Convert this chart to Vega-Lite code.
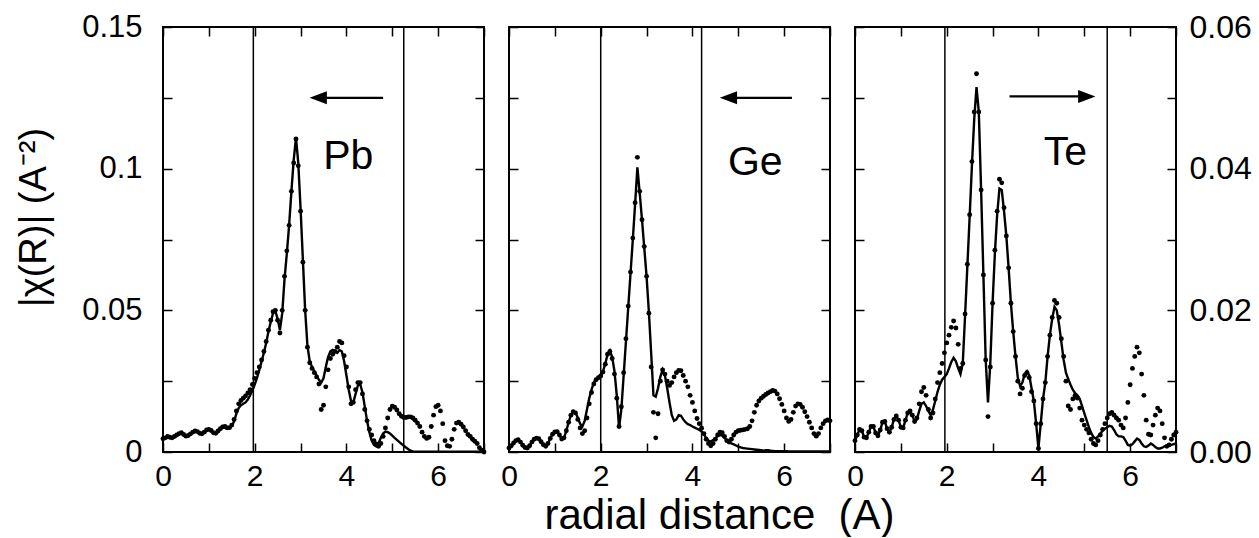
{
"$schema": "https://vega.github.io/schema/vega-lite/v6.json",
"background": "white",
"padding": {"left": 14, "top": 10, "right": 0, "bottom": 0},
"spacing": 25,
"bounds": "flush",
"config": {
  "view": {"stroke": "black", "strokeWidth": 2},
  "font": "Liberation Sans",
  "axis": {"domain": false, "grid": false, "tickColor": "black", "tickWidth": 1.5, "tickSize": -9, "labelColor": "black", "labelFont": "Liberation Sans", "labelFontSize": 31, "titleFont": "Liberation Sans", "titleColor": "black", "titleFontWeight": "normal", "labelFlush": false, "labelOverlap": false}
},
"datasets": {
"pb": [
{"r":0.00,"d":0.0047,"f":0.0045},{"r":0.05,"d":0.0050,"f":0.0048},{"r":0.10,"d":0.0055,"f":0.0052},{"r":0.15,"d":0.0052,"f":0.0050},{"r":0.20,"d":0.0050,"f":0.0048},{"r":0.25,"d":0.0055,"f":0.0053},{"r":0.30,"d":0.0060,"f":0.0058},{"r":0.35,"d":0.0065,"f":0.0063},{"r":0.40,"d":0.0068,"f":0.0066},{"r":0.45,"d":0.0062,"f":0.0060},
{"r":0.50,"d":0.0056,"f":0.0055},{"r":0.55,"d":0.0058,"f":0.0057},{"r":0.60,"d":0.0064,"f":0.0063},{"r":0.65,"d":0.0070,"f":0.0069},{"r":0.70,"d":0.0074,"f":0.0073},{"r":0.75,"d":0.0072,"f":0.0071},{"r":0.80,"d":0.0066,"f":0.0065},{"r":0.85,"d":0.0064,"f":0.0063},{"r":0.90,"d":0.0070,"f":0.0069},{"r":0.95,"d":0.0078,"f":0.0077},
{"r":1.00,"d":0.0080,"f":0.0080},{"r":1.05,"d":0.0076,"f":0.0075},{"r":1.10,"d":0.0068,"f":0.0067},{"r":1.15,"d":0.0066,"f":0.0065},{"r":1.20,"d":0.0074,"f":0.0074},{"r":1.25,"d":0.0082,"f":0.0082},{"r":1.30,"d":0.0088,"f":0.0087},{"r":1.35,"d":0.0090,"f":0.0088},{"r":1.40,"d":0.0085,"f":0.0084},{"r":1.45,"d":0.0086,"f":0.0085},
{"r":1.50,"d":0.0095,"f":0.0092},{"r":1.55,"d":0.0115,"f":0.0108},{"r":1.60,"d":0.0145,"f":0.0135},{"r":1.65,"d":0.0170,"f":0.0155},{"r":1.70,"d":0.0182,"f":0.0165},{"r":1.75,"d":0.0190,"f":0.0170},{"r":1.80,"d":0.0198,"f":0.0175},{"r":1.85,"d":0.0208,"f":0.0185},{"r":1.90,"d":0.0220,"f":0.0200},{"r":1.95,"d":0.0238,"f":0.0218},
{"r":2.00,"d":0.0260,"f":0.0238},{"r":2.05,"d":0.0280,"f":0.0262},{"r":2.10,"d":0.0300,"f":0.0290},{"r":2.15,"d":0.0325,"f":0.0320},{"r":2.20,"d":0.0355,"f":0.0350},{"r":2.25,"d":0.0390,"f":0.0385},{"r":2.30,"d":0.0430,"f":0.0425},{"r":2.35,"d":0.0465,"f":0.0460},{"r":2.40,"d":0.0495,"f":0.0490},{"r":2.45,"d":0.0500,"f":0.0498},
{"r":2.50,"d":0.0465,"f":0.0470},{"r":2.55,"d":0.0420,"f":0.0430},{"r":2.60,"d":0.0500,"f":0.0490},{"r":2.65,"d":0.0620,"f":0.0610},{"r":2.70,"d":0.0710,"f":0.0700},{"r":2.75,"d":0.0800,"f":0.0800},{"r":2.80,"d":0.0920,"f":0.0920},{"r":2.85,"d":0.1020,"f":0.1030},{"r":2.90,"d":0.1105,"f":0.1110},{"r":2.95,"d":0.1010,"f":0.1020},
{"r":3.00,"d":0.0850,"f":0.0860},{"r":3.05,"d":0.0670,"f":0.0680},{"r":3.10,"d":0.0500,"f":0.0500},{"r":3.15,"d":0.0370,"f":0.0375},{"r":3.20,"d":0.0315,"f":0.0320},{"r":3.25,"d":0.0295,"f":0.0300},{"r":3.30,"d":0.0280,"f":0.0285},{"r":3.35,"d":0.0265,"f":0.0270},{"r":3.40,"d":0.0240,"f":0.0255},{"r":3.45,"d":0.0150,"f":0.0245},
{"r":3.50,"d":0.0165,"f":0.0260},{"r":3.55,"d":0.0230,"f":0.0300},{"r":3.60,"d":0.0290,"f":0.0335},{"r":3.65,"d":0.0330,"f":0.0355},{"r":3.70,"d":0.0345,"f":0.0360},{"r":3.75,"d":0.0355,"f":0.0355},{"r":3.80,"d":0.0370,"f":0.0350},{"r":3.85,"d":0.0390,"f":0.0360},{"r":3.90,"d":0.0385,"f":0.0355},{"r":3.95,"d":0.0340,"f":0.0320},
{"r":4.00,"d":0.0300,"f":0.0270},{"r":4.05,"d":0.0230,"f":0.0220},{"r":4.10,"d":0.0170,"f":0.0180},{"r":4.15,"d":0.0175,"f":0.0175},{"r":4.20,"d":0.0220,"f":0.0205},{"r":4.25,"d":0.0245,"f":0.0235},{"r":4.30,"d":0.0245,"f":0.0240},{"r":4.35,"d":0.0205,"f":0.0210},{"r":4.40,"d":0.0150,"f":0.0160},{"r":4.45,"d":0.0110,"f":0.0110},
{"r":4.50,"d":0.0080,"f":0.0070},{"r":4.55,"d":0.0060,"f":0.0040},{"r":4.60,"d":0.0040,"f":0.0025},{"r":4.65,"d":0.0028,"f":0.0020},{"r":4.70,"d":0.0020,"f":0.0030},{"r":4.75,"d":0.0030,"f":0.0050},{"r":4.80,"d":0.0055,"f":0.0065},{"r":4.85,"d":0.0085,"f":0.0072},{"r":4.90,"d":0.0120,"f":0.0070},{"r":4.95,"d":0.0150,"f":0.0065},
{"r":5.00,"d":0.0162,"f":0.0058},{"r":5.05,"d":0.0158,"f":0.0050},{"r":5.10,"d":0.0148,"f":0.0043},{"r":5.15,"d":0.0135,"f":0.0036},{"r":5.20,"d":0.0126,"f":0.0029},{"r":5.25,"d":0.0122,"f":0.0022},{"r":5.30,"d":0.0122,"f":0.0016},{"r":5.35,"d":0.0124,"f":0.0010},{"r":5.40,"d":0.0124,"f":0.0005},{"r":5.45,"d":0.0120,"f":0.0002},
{"r":5.50,"d":0.0112,"f":0.0001},{"r":5.55,"d":0.0102,"f":0.0001},{"r":5.60,"d":0.0090,"f":0.0001},{"r":5.65,"d":0.0070,"f":0.0001},{"r":5.70,"d":0.0055,"f":0.0001},{"r":5.75,"d":0.0048,"f":0.0001},{"r":5.80,"d":0.0052,"f":0.0001},{"r":5.85,"d":0.0090,"f":0.0001},{"r":5.90,"d":0.0130,"f":0.0001},{"r":5.95,"d":0.0160,"f":0.0001},
{"r":6.00,"d":0.0165,"f":0.0001},{"r":6.05,"d":0.0145,"f":0.0001},{"r":6.10,"d":0.0100,"f":0.0001},{"r":6.15,"d":0.0040,"f":0.0001},{"r":6.20,"d":0.0022,"f":0.0001},{"r":6.25,"d":0.0020,"f":0.0001},{"r":6.30,"d":0.0045,"f":0.0001},{"r":6.35,"d":0.0080,"f":0.0001},{"r":6.40,"d":0.0102,"f":0.0001},{"r":6.45,"d":0.0105,"f":0.0001},
{"r":6.50,"d":0.0098,"f":0.0001},{"r":6.55,"d":0.0088,"f":0.0001},{"r":6.60,"d":0.0075,"f":0.0001},{"r":6.65,"d":0.0062,"f":0.0001},{"r":6.70,"d":0.0055,"f":0.0001},{"r":6.75,"d":0.0045,"f":0.0001},{"r":6.80,"d":0.0038,"f":0.0001},{"r":6.85,"d":0.0030,"f":0.0001},{"r":6.90,"d":0.0015,"f":0.0001},{"r":6.95,"d":0.0006,"f":0.0001},
{"r":7.00,"d":0.0000,"f":0.0001}
],
"ge": [
{"r":0.00,"d":0.0014,"f":0.0014},{"r":0.05,"d":0.0022,"f":0.0022},{"r":0.10,"d":0.0032,"f":0.0032},{"r":0.15,"d":0.0040,"f":0.0040},{"r":0.20,"d":0.0043,"f":0.0043},{"r":0.25,"d":0.0035,"f":0.0035},{"r":0.30,"d":0.0024,"f":0.0024},{"r":0.35,"d":0.0016,"f":0.0016},{"r":0.40,"d":0.0014,"f":0.0014},{"r":0.45,"d":0.0022,"f":0.0022},
{"r":0.50,"d":0.0035,"f":0.0035},{"r":0.55,"d":0.0045,"f":0.0045},{"r":0.60,"d":0.0049,"f":0.0049},{"r":0.65,"d":0.0047,"f":0.0047},{"r":0.70,"d":0.0036,"f":0.0036},{"r":0.75,"d":0.0026,"f":0.0026},{"r":0.80,"d":0.0020,"f":0.0020},{"r":0.85,"d":0.0030,"f":0.0030},{"r":0.90,"d":0.0048,"f":0.0048},{"r":0.95,"d":0.0063,"f":0.0063},
{"r":1.00,"d":0.0071,"f":0.0071},{"r":1.05,"d":0.0072,"f":0.0072},{"r":1.10,"d":0.0060,"f":0.0060},{"r":1.15,"d":0.0046,"f":0.0046},{"r":1.20,"d":0.0050,"f":0.0050},{"r":1.25,"d":0.0075,"f":0.0075},{"r":1.30,"d":0.0105,"f":0.0105},{"r":1.35,"d":0.0130,"f":0.0130},{"r":1.40,"d":0.0142,"f":0.0142},{"r":1.45,"d":0.0138,"f":0.0138},
{"r":1.50,"d":0.0115,"f":0.0122},{"r":1.55,"d":0.0085,"f":0.0100},{"r":1.60,"d":0.0065,"f":0.0090},{"r":1.65,"d":0.0075,"f":0.0110},{"r":1.70,"d":0.0120,"f":0.0150},{"r":1.75,"d":0.0170,"f":0.0190},{"r":1.80,"d":0.0210,"f":0.0220},{"r":1.85,"d":0.0240,"f":0.0245},{"r":1.90,"d":0.0255,"f":0.0258},{"r":1.95,"d":0.0262,"f":0.0265},
{"r":2.00,"d":0.0268,"f":0.0272},{"r":2.05,"d":0.0282,"f":0.0285},{"r":2.10,"d":0.0310,"f":0.0312},{"r":2.15,"d":0.0345,"f":0.0345},{"r":2.20,"d":0.0355,"f":0.0358},{"r":2.25,"d":0.0330,"f":0.0335},{"r":2.30,"d":0.0275,"f":0.0285},{"r":2.35,"d":0.0190,"f":0.0200},{"r":2.40,"d":0.0090,"f":0.0085},{"r":2.45,"d":0.0160,"f":0.0150},
{"r":2.50,"d":0.0280,"f":0.0270},{"r":2.55,"d":0.0400,"f":0.0390},{"r":2.60,"d":0.0515,"f":0.0510},{"r":2.65,"d":0.0635,"f":0.0630},{"r":2.70,"d":0.0755,"f":0.0750},{"r":2.75,"d":0.0880,"f":0.0875},{"r":2.80,"d":0.1040,"f":0.1005},{"r":2.85,"d":0.0920,"f":0.0915},{"r":2.90,"d":0.0820,"f":0.0820},{"r":2.95,"d":0.0725,"f":0.0720},
{"r":3.00,"d":0.0620,"f":0.0620},{"r":3.05,"d":0.0490,"f":0.0495},{"r":3.10,"d":0.0300,"f":0.0350},{"r":3.15,"d":0.0140,"f":0.0200},{"r":3.20,"d":0.0050,"f":0.0195},{"r":3.25,"d":0.0135,"f":0.0225},{"r":3.30,"d":0.0250,"f":0.0265},{"r":3.35,"d":0.0290,"f":0.0290},{"r":3.40,"d":0.0275,"f":0.0270},{"r":3.45,"d":0.0250,"f":0.0225},
{"r":3.50,"d":0.0235,"f":0.0175},{"r":3.55,"d":0.0245,"f":0.0130},{"r":3.60,"d":0.0265,"f":0.0110},{"r":3.65,"d":0.0280,"f":0.0115},{"r":3.70,"d":0.0288,"f":0.0130},{"r":3.75,"d":0.0287,"f":0.0128},{"r":3.80,"d":0.0270,"f":0.0115},{"r":3.85,"d":0.0250,"f":0.0105},{"r":3.90,"d":0.0230,"f":0.0098},{"r":3.95,"d":0.0200,"f":0.0095},
{"r":4.00,"d":0.0175,"f":0.0090},{"r":4.05,"d":0.0145,"f":0.0086},{"r":4.10,"d":0.0118,"f":0.0082},{"r":4.15,"d":0.0100,"f":0.0078},{"r":4.20,"d":0.0084,"f":0.0072},{"r":4.25,"d":0.0065,"f":0.0062},{"r":4.30,"d":0.0045,"f":0.0050},{"r":4.35,"d":0.0030,"f":0.0040},{"r":4.40,"d":0.0022,"f":0.0037},{"r":4.45,"d":0.0030,"f":0.0042},
{"r":4.50,"d":0.0045,"f":0.0049},{"r":4.55,"d":0.0060,"f":0.0056},{"r":4.60,"d":0.0070,"f":0.0060},{"r":4.65,"d":0.0068,"f":0.0058},{"r":4.70,"d":0.0055,"f":0.0050},{"r":4.75,"d":0.0040,"f":0.0040},{"r":4.80,"d":0.0035,"f":0.0034},{"r":4.85,"d":0.0045,"f":0.0030},{"r":4.90,"d":0.0060,"f":0.0027},{"r":4.95,"d":0.0070,"f":0.0023},
{"r":5.00,"d":0.0075,"f":0.0019},{"r":5.05,"d":0.0077,"f":0.0016},{"r":5.10,"d":0.0078,"f":0.0014},{"r":5.15,"d":0.0080,"f":0.0013},{"r":5.20,"d":0.0082,"f":0.0012},{"r":5.25,"d":0.0090,"f":0.0011},{"r":5.30,"d":0.0110,"f":0.0010},{"r":5.35,"d":0.0140,"f":0.0009},{"r":5.40,"d":0.0165,"f":0.0008},{"r":5.45,"d":0.0180,"f":0.0007},
{"r":5.50,"d":0.0190,"f":0.0006},{"r":5.55,"d":0.0197,"f":0.0005},{"r":5.60,"d":0.0203,"f":0.0006},{"r":5.65,"d":0.0208,"f":0.0006},{"r":5.70,"d":0.0213,"f":0.0005},{"r":5.75,"d":0.0217,"f":0.0004},{"r":5.80,"d":0.0215,"f":0.0003},{"r":5.85,"d":0.0205,"f":0.0003},{"r":5.90,"d":0.0188,"f":0.0003},{"r":5.95,"d":0.0168,"f":0.0003},
{"r":6.00,"d":0.0145,"f":0.0003},{"r":6.05,"d":0.0120,"f":0.0003},{"r":6.10,"d":0.0108,"f":0.0002},{"r":6.15,"d":0.0115,"f":0.0002},{"r":6.20,"d":0.0140,"f":0.0002},{"r":6.25,"d":0.0162,"f":0.0002},{"r":6.30,"d":0.0170,"f":0.0002},{"r":6.35,"d":0.0168,"f":0.0002},{"r":6.40,"d":0.0158,"f":0.0002},{"r":6.45,"d":0.0142,"f":0.0002},
{"r":6.50,"d":0.0125,"f":0.0002},{"r":6.55,"d":0.0105,"f":0.0002},{"r":6.60,"d":0.0085,"f":0.0002},{"r":6.65,"d":0.0065,"f":0.0002},{"r":6.70,"d":0.0056,"f":0.0002},{"r":6.75,"d":0.0065,"f":0.0002},{"r":6.80,"d":0.0085,"f":0.0002},{"r":6.85,"d":0.0100,"f":0.0002},{"r":6.90,"d":0.0110,"f":0.0002},{"r":6.95,"d":0.0113,"f":0.0002},
{"r":7.00,"d":0.0110,"f":0.0002}
],
"te": [
{"r":0.00,"d":0.0016,"f":0.0016},{"r":0.05,"d":0.0024,"f":0.0024},{"r":0.10,"d":0.0032,"f":0.0032},{"r":0.15,"d":0.0030,"f":0.0030},{"r":0.20,"d":0.0021,"f":0.0021},{"r":0.25,"d":0.0020,"f":0.0020},{"r":0.30,"d":0.0028,"f":0.0028},{"r":0.35,"d":0.0036,"f":0.0036},{"r":0.40,"d":0.0036,"f":0.0036},{"r":0.45,"d":0.0027,"f":0.0027},
{"r":0.50,"d":0.0023,"f":0.0023},{"r":0.55,"d":0.0031,"f":0.0031},{"r":0.60,"d":0.0042,"f":0.0042},{"r":0.65,"d":0.0043,"f":0.0043},{"r":0.70,"d":0.0033,"f":0.0033},{"r":0.75,"d":0.0028,"f":0.0028},{"r":0.80,"d":0.0035,"f":0.0035},{"r":0.85,"d":0.0046,"f":0.0046},{"r":0.90,"d":0.0051,"f":0.0051},{"r":0.95,"d":0.0045,"f":0.0045},
{"r":1.00,"d":0.0035,"f":0.0035},{"r":1.05,"d":0.0034,"f":0.0034},{"r":1.10,"d":0.0045,"f":0.0045},{"r":1.15,"d":0.0055,"f":0.0055},{"r":1.20,"d":0.0058,"f":0.0058},{"r":1.25,"d":0.0052,"f":0.0052},{"r":1.30,"d":0.0043,"f":0.0043},{"r":1.35,"d":0.0048,"f":0.0046},{"r":1.40,"d":0.0068,"f":0.0058},{"r":1.45,"d":0.0085,"f":0.0068},
{"r":1.50,"d":0.0091,"f":0.0070},{"r":1.55,"d":0.0080,"f":0.0065},{"r":1.60,"d":0.0060,"f":0.0058},{"r":1.65,"d":0.0048,"f":0.0052},{"r":1.70,"d":0.0055,"f":0.0060},{"r":1.75,"d":0.0075,"f":0.0072},{"r":1.80,"d":0.0098,"f":0.0085},{"r":1.85,"d":0.0112,"f":0.0095},{"r":1.90,"d":0.0125,"f":0.0102},{"r":1.95,"d":0.0140,"f":0.0106},
{"r":2.00,"d":0.0154,"f":0.0110},{"r":2.05,"d":0.0165,"f":0.0118},{"r":2.10,"d":0.0176,"f":0.0127},{"r":2.15,"d":0.0185,"f":0.0133},{"r":2.20,"d":0.0175,"f":0.0128},{"r":2.25,"d":0.0152,"f":0.0118},{"r":2.30,"d":0.0118,"f":0.0110},{"r":2.35,"d":0.0125,"f":0.0125},{"r":2.40,"d":0.0195,"f":0.0192},{"r":2.45,"d":0.0265,"f":0.0262},
{"r":2.50,"d":0.0335,"f":0.0332},{"r":2.55,"d":0.0410,"f":0.0405},{"r":2.60,"d":0.0480,"f":0.0470},{"r":2.65,"d":0.0534,"f":0.0515},{"r":2.70,"d":0.0480,"f":0.0480},{"r":2.75,"d":0.0370,"f":0.0370},{"r":2.80,"d":0.0250,"f":0.0250},{"r":2.85,"d":0.0130,"f":0.0130},{"r":2.90,"d":0.0050,"f":0.0070},{"r":2.95,"d":0.0120,"f":0.0125},
{"r":3.00,"d":0.0210,"f":0.0210},{"r":3.05,"d":0.0285,"f":0.0280},{"r":3.10,"d":0.0340,"f":0.0335},{"r":3.15,"d":0.0385,"f":0.0372},{"r":3.20,"d":0.0380,"f":0.0370},{"r":3.25,"d":0.0345,"f":0.0340},{"r":3.30,"d":0.0305,"f":0.0305},{"r":3.35,"d":0.0260,"f":0.0260},{"r":3.40,"d":0.0210,"f":0.0210},{"r":3.45,"d":0.0170,"f":0.0170},
{"r":3.50,"d":0.0135,"f":0.0135},{"r":3.55,"d":0.0100,"f":0.0105},{"r":3.60,"d":0.0082,"f":0.0093},{"r":3.65,"d":0.0090,"f":0.0098},{"r":3.70,"d":0.0108,"f":0.0110},{"r":3.75,"d":0.0112,"f":0.0114},{"r":3.80,"d":0.0105,"f":0.0108},{"r":3.85,"d":0.0085,"f":0.0090},{"r":3.90,"d":0.0072,"f":0.0072},{"r":3.95,"d":0.0040,"f":0.0040},
{"r":4.00,"d":0.0005,"f":0.0005},{"r":4.05,"d":0.0040,"f":0.0040},{"r":4.10,"d":0.0075,"f":0.0075},{"r":4.15,"d":0.0098,"f":0.0098},{"r":4.20,"d":0.0135,"f":0.0135},{"r":4.25,"d":0.0165,"f":0.0165},{"r":4.30,"d":0.0190,"f":0.0188},{"r":4.35,"d":0.0214,"f":0.0205},{"r":4.40,"d":0.0210,"f":0.0200},{"r":4.45,"d":0.0190,"f":0.0180},
{"r":4.50,"d":0.0160,"f":0.0155},{"r":4.55,"d":0.0135,"f":0.0130},{"r":4.60,"d":0.0100,"f":0.0112},{"r":4.65,"d":0.0065,"f":0.0103},{"r":4.70,"d":0.0060,"f":0.0095},{"r":4.75,"d":0.0075,"f":0.0088},{"r":4.80,"d":0.0080,"f":0.0083},{"r":4.85,"d":0.0076,"f":0.0080},{"r":4.90,"d":0.0062,"f":0.0075},{"r":4.95,"d":0.0045,"f":0.0065},
{"r":5.00,"d":0.0038,"f":0.0055},{"r":5.05,"d":0.0032,"f":0.0045},{"r":5.10,"d":0.0027,"f":0.0035},{"r":5.15,"d":0.0018,"f":0.0027},{"r":5.20,"d":0.0012,"f":0.0021},{"r":5.25,"d":0.0010,"f":0.0019},{"r":5.30,"d":0.0016,"f":0.0022},{"r":5.35,"d":0.0024,"f":0.0026},{"r":5.40,"d":0.0032,"f":0.0030},{"r":5.45,"d":0.0040,"f":0.0033},
{"r":5.50,"d":0.0048,"f":0.0035},{"r":5.55,"d":0.0054,"f":0.0037},{"r":5.60,"d":0.0056,"f":0.0036},{"r":5.65,"d":0.0052,"f":0.0031},{"r":5.70,"d":0.0048,"f":0.0025},{"r":5.75,"d":0.0045,"f":0.0022},{"r":5.80,"d":0.0038,"f":0.0022},{"r":5.85,"d":0.0034,"f":0.0021},{"r":5.90,"d":0.0048,"f":0.0016},{"r":5.95,"d":0.0070,"f":0.0010},
{"r":6.00,"d":0.0095,"f":0.0009},{"r":6.05,"d":0.0118,"f":0.0011},{"r":6.10,"d":0.0135,"f":0.0015},{"r":6.15,"d":0.0148,"f":0.0019},{"r":6.20,"d":0.0140,"f":0.0017},{"r":6.25,"d":0.0110,"f":0.0012},{"r":6.30,"d":0.0080,"f":0.0008},{"r":6.35,"d":0.0045,"f":0.0007},{"r":6.40,"d":0.0025,"f":0.0009},{"r":6.45,"d":0.0024,"f":0.0012},
{"r":6.50,"d":0.0038,"f":0.0010},{"r":6.55,"d":0.0052,"f":0.0007},{"r":6.60,"d":0.0062,"f":0.0005},{"r":6.65,"d":0.0058,"f":0.0005},{"r":6.70,"d":0.0040,"f":0.0006},{"r":6.75,"d":0.0020,"f":0.0008},{"r":6.80,"d":0.0008,"f":0.0009},{"r":6.85,"d":0.0010,"f":0.0009},{"r":6.90,"d":0.0018,"f":0.0010},{"r":6.95,"d":0.0024,"f":0.0011},
{"r":7.00,"d":0.0028,"f":0.0012}
]
},
"hconcat": [
{
 "width": 321, "height": 425,
 "layer": [
  {"layer": [
    {"data": {"values": [{"v": 1.97}, {"v": 5.25}]}, "mark": {"type": "rule", "color": "black", "strokeWidth": 1.5},
     "encoding": {"x": {"field": "v", "type": "quantitative", "scale": {"domain": [0, 7], "nice": false, "zero": false},
       "axis": {"orient": "bottom", "values": [0,1,2,3,4,5,6,7], "labelExpr": "datum.value % 2 === 0 && datum.value < 7 ? datum.label : ''", "labelPadding": 18, "labelFontSize": 30, "title": null}}}},
    {"data": {"name": "pb"}, "mark": {"type": "line", "color": "black", "strokeWidth": 2.4},
     "encoding": {"x": {"field": "r", "type": "quantitative"},
       "y": {"field": "f", "type": "quantitative", "scale": {"domain": [0, 0.15], "nice": false, "zero": false},
         "axis": {"orient": "left", "values": [0, 0.025, 0.05, 0.075, 0.1, 0.125, 0.15], "labelExpr": "datum.value === 0 ? '0' : datum.value === 0.05 ? '0.05' : datum.value === 0.1 ? '0.1' : datum.value === 0.15 ? '0.15' : ''", "labelPadding": 30,
           "title": "|χ(R)| (A⁻²)", "titleFontSize": 38, "titleAngle": 270, "titleX": -129, "titleY": 190, "titleAlign": "center", "titleBaseline": "middle"}}}},
    {"data": {"name": "pb"}, "mark": {"type": "point", "filled": true, "color": "black", "size": 24, "opacity": 1},
     "encoding": {"x": {"field": "r", "type": "quantitative"}, "y": {"field": "d", "type": "quantitative"}}},
    {"data": {"values": [{"x1": 4.8, "x2": 3.39, "y": 0.125}]}, "mark": {"type": "rule", "color": "black", "strokeWidth": 2.2},
     "encoding": {"x": {"field": "x1", "type": "quantitative"}, "x2": {"field": "x2"}, "y": {"field": "y", "type": "quantitative"}}},
    {"data": {"values": [{"x": 3.385, "y": 0.125}]}, "mark": {"type": "point", "shape": "M-1,0L1,-0.75L1,0.75Z", "filled": true, "color": "black", "size": 300, "opacity": 1},
     "encoding": {"x": {"field": "x", "type": "quantitative"}, "y": {"field": "y", "type": "quantitative"}}},
    {"data": {"values": [{"x": 4.04, "y": 0.104, "t": "Pb"}]}, "mark": {"type": "text", "fontSize": 41, "color": "black", "font": "Liberation Sans", "align": "center", "baseline": "middle"},
     "encoding": {"x": {"field": "x", "type": "quantitative"}, "y": {"field": "y", "type": "quantitative"}, "text": {"field": "t"}}}
  ]},
  {"data": {"values": [{"x": 0, "y": 0}]}, "mark": {"type": "point", "opacity": 0},
   "encoding": {
     "x": {"field": "x", "type": "quantitative", "scale": {"domain": [0, 7], "nice": false, "zero": false}, "axis": {"orient": "top", "values": [0,1,2,3,4,5,6,7], "labels": false, "title": null}},
     "y": {"field": "y", "type": "quantitative", "scale": {"domain": [0, 0.15], "nice": false, "zero": false}, "axis": {"orient": "right", "values": [0, 0.025, 0.05, 0.075, 0.1, 0.125, 0.15], "labels": false, "title": null}}}}
 ],
 "resolve": {"scale": {"x": "independent", "y": "independent"}}
},
{
 "width": 321, "height": 425,
 "layer": [
  {"layer": [
    {"data": {"values": [{"v": 2.0}, {"v": 4.2}]}, "mark": {"type": "rule", "color": "black", "strokeWidth": 1.5},
     "encoding": {"x": {"field": "v", "type": "quantitative", "scale": {"domain": [0, 7], "nice": false, "zero": false},
       "axis": {"orient": "bottom", "values": [0,1,2,3,4,5,6,7], "labelExpr": "datum.value % 2 === 0 && datum.value < 7 ? datum.label : ''", "labelPadding": 18, "labelFontSize": 30,
         "title": "radial distance \u00a0(A)", "titleFontSize": 42, "titleX": 210, "titleY": 76, "titleAlign": "center", "titleBaseline": "alphabetic", "titleAnchor": null}}}},
    {"data": {"name": "ge"}, "mark": {"type": "line", "color": "black", "strokeWidth": 2.4},
     "encoding": {"x": {"field": "r", "type": "quantitative"},
       "y": {"field": "f", "type": "quantitative", "scale": {"domain": [0, 0.15], "nice": false, "zero": false},
         "axis": {"orient": "left", "values": [0, 0.025, 0.05, 0.075, 0.1, 0.125, 0.15], "labels": false, "title": null}}}},
    {"data": {"name": "ge"}, "mark": {"type": "point", "filled": true, "color": "black", "size": 24, "opacity": 1},
     "encoding": {"x": {"field": "r", "type": "quantitative"}, "y": {"field": "d", "type": "quantitative"}}},
    {"data": {"values": [{"x1": 6.17, "x2": 4.79, "y": 0.125}]}, "mark": {"type": "rule", "color": "black", "strokeWidth": 2.2},
     "encoding": {"x": {"field": "x1", "type": "quantitative"}, "x2": {"field": "x2"}, "y": {"field": "y", "type": "quantitative"}}},
    {"data": {"values": [{"x": 4.785, "y": 0.125}]}, "mark": {"type": "point", "shape": "M-1,0L1,-0.75L1,0.75Z", "filled": true, "color": "black", "size": 300, "opacity": 1},
     "encoding": {"x": {"field": "x", "type": "quantitative"}, "y": {"field": "y", "type": "quantitative"}}},
    {"data": {"values": [{"x": 5.37, "y": 0.102, "t": "Ge"}]}, "mark": {"type": "text", "fontSize": 41, "color": "black", "font": "Liberation Sans", "align": "center", "baseline": "middle"},
     "encoding": {"x": {"field": "x", "type": "quantitative"}, "y": {"field": "y", "type": "quantitative"}, "text": {"field": "t"}}}
  ]},
  {"data": {"values": [{"x": 0, "y": 0}]}, "mark": {"type": "point", "opacity": 0},
   "encoding": {
     "x": {"field": "x", "type": "quantitative", "scale": {"domain": [0, 7], "nice": false, "zero": false}, "axis": {"orient": "top", "values": [0,1,2,3,4,5,6,7], "labels": false, "title": null}},
     "y": {"field": "y", "type": "quantitative", "scale": {"domain": [0, 0.15], "nice": false, "zero": false}, "axis": {"orient": "right", "values": [0, 0.025, 0.05, 0.075, 0.1, 0.125, 0.15], "labels": false, "title": null}}}}
 ],
 "resolve": {"scale": {"x": "independent", "y": "independent"}}
},
{
 "width": 321, "height": 425,
 "layer": [
  {"layer": [
    {"data": {"values": [{"v": 1.96}, {"v": 5.5}]}, "mark": {"type": "rule", "color": "black", "strokeWidth": 1.5},
     "encoding": {"x": {"field": "v", "type": "quantitative", "scale": {"domain": [0, 7], "nice": false, "zero": false},
       "axis": {"orient": "bottom", "values": [0,1,2,3,4,5,6,7], "labelExpr": "datum.value % 2 === 0 && datum.value < 7 ? datum.label : ''", "labelPadding": 18, "labelFontSize": 30, "title": null}}}},
    {"data": {"name": "te"}, "mark": {"type": "line", "color": "black", "strokeWidth": 2.4},
     "encoding": {"x": {"field": "r", "type": "quantitative"},
       "y": {"field": "f", "type": "quantitative", "scale": {"domain": [0, 0.06], "nice": false, "zero": false},
         "axis": {"orient": "right", "values": [0, 0.01, 0.02, 0.03, 0.04, 0.05, 0.06], "labelExpr": "datum.value === 0 ? '0.00' : datum.value === 0.02 ? '0.02' : datum.value === 0.04 ? '0.04' : datum.value === 0.06 ? '0.06' : ''", "labelPadding": 22, "labelFontSize": 32, "title": null}}}},
    {"data": {"name": "te"}, "mark": {"type": "point", "filled": true, "color": "black", "size": 24, "opacity": 1},
     "encoding": {"x": {"field": "r", "type": "quantitative"}, "y": {"field": "d", "type": "quantitative"}}},
    {"data": {"values": [{"x1": 3.37, "x2": 5.06, "y": 0.0502}]}, "mark": {"type": "rule", "color": "black", "strokeWidth": 2.2},
     "encoding": {"x": {"field": "x1", "type": "quantitative"}, "x2": {"field": "x2"}, "y": {"field": "y", "type": "quantitative"}}},
    {"data": {"values": [{"x": 5.055, "y": 0.0502}]}, "mark": {"type": "point", "shape": "M1,0L-1,-0.75L-1,0.75Z", "filled": true, "color": "black", "size": 300, "opacity": 1},
     "encoding": {"x": {"field": "x", "type": "quantitative"}, "y": {"field": "y", "type": "quantitative"}}},
    {"data": {"values": [{"x": 4.59, "y": 0.0422, "t": "Te"}]}, "mark": {"type": "text", "fontSize": 41, "color": "black", "font": "Liberation Sans", "align": "center", "baseline": "middle"},
     "encoding": {"x": {"field": "x", "type": "quantitative"}, "y": {"field": "y", "type": "quantitative"}, "text": {"field": "t"}}}
  ]},
  {"data": {"values": [{"x": 0, "y": 0}]}, "mark": {"type": "point", "opacity": 0},
   "encoding": {
     "x": {"field": "x", "type": "quantitative", "scale": {"domain": [0, 7], "nice": false, "zero": false}, "axis": {"orient": "top", "values": [0,1,2,3,4,5,6,7], "labels": false, "title": null}},
     "y": {"field": "y", "type": "quantitative", "scale": {"domain": [0, 0.06], "nice": false, "zero": false}, "axis": {"orient": "left", "values": [0, 0.01, 0.02, 0.03, 0.04, 0.05, 0.06], "labels": false, "title": null}}}}
 ],
 "resolve": {"scale": {"x": "independent", "y": "independent"}}
}
]
}
